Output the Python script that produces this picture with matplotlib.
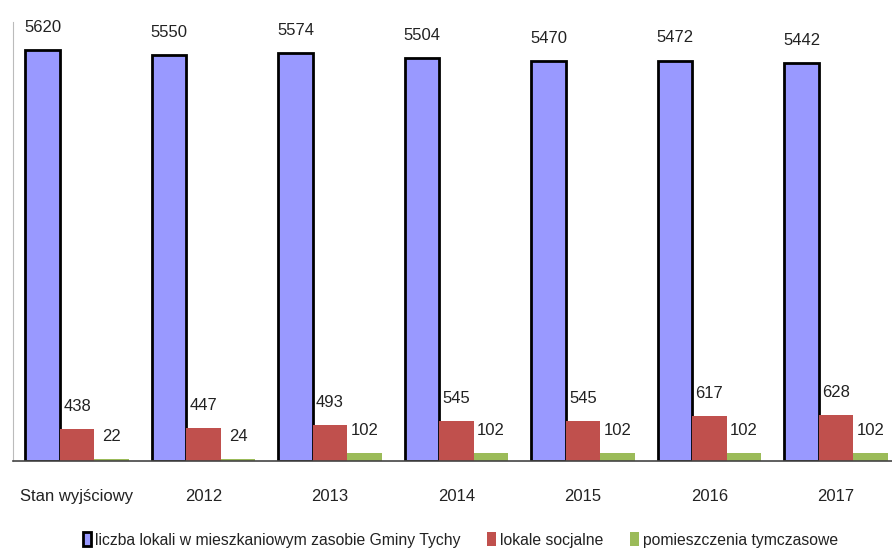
import numpy as np
import matplotlib.pyplot as plt

plt.rcParams['font.family'] = ['Liberation Sans', 'DejaVu Sans']

categories = ['Stan wyjściowy', '2012', '2013', '2014', '2015', '2016', '2017']
lokale_gminy = [5620, 5550, 5574, 5504, 5470, 5472, 5442]
lokale_socjalne = [438, 447, 493, 545, 545, 617, 628]
pomieszczenia = [22, 24, 102, 102, 102, 102, 102]

names = ['liczba lokali w mieszkaniowym zasobie Gminy Tychy',
         'lokale socjalne', 'pomieszczenia tymczasowe']

fig = plt.figure(figsize=(8.92, 5.54), dpi=100)
ax = fig.add_axes([0.0146, 0.168, 0.985, 0.792])

x = np.arange(len(categories))
w = 0.273

b1 = ax.bar(x - w, lokale_gminy, w, color='#9999ff', edgecolor='black', linewidth=2, label=names[0])
b2 = ax.bar(x, lokale_socjalne, w, color='#c0504d', label=names[1])
b3 = ax.bar(x + w, pomieszczenia, w, color='#9bbb59', label=names[2])

for bars in (b1, b2, b3):
    for b in bars:
        ax.annotate(f'{int(b.get_height())}', (b.get_x() + b.get_width() / 2, b.get_height()),
                    xytext=(0, 11), textcoords='offset points', ha='center', va='bottom',
                    fontsize=12, color='#222222')

ax.set_xlim(-0.506, 6.44)
ax.set_ylim(0, 6000)
ax.set_xticks(x)
ax.set_xticklabels(categories, fontsize=12, color='#222222')
ax.tick_params(axis='x', length=0, pad=20)
ax.set_yticks([])
ax.spines['top'].set_visible(False)
ax.spines['right'].set_visible(False)
ax.spines['left'].set_color('#bbbbbb')
ax.spines['bottom'].set_color('#444444')
ax.spines['bottom'].set_linewidth(1.2)

leg = fig.legend(handles=[b1, b2, b3], labels=names, loc='center', bbox_to_anchor=(0.516, 0.025),
                 ncol=3, frameon=False, fontsize=11.3, handlelength=0.55, handleheight=1.0,
                 handletextpad=0.25, columnspacing=1.7)
for t in leg.get_texts():
    t.set_color('#222222')

plt.savefig('out.png')
